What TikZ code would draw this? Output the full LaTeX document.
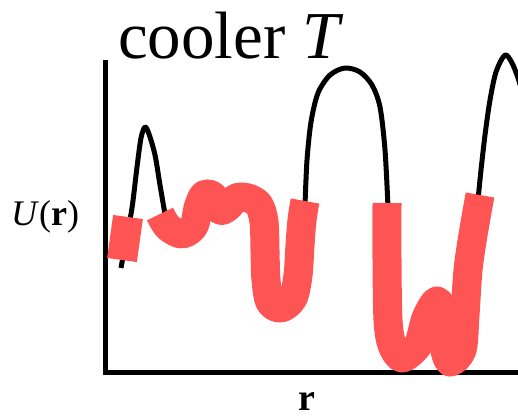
\documentclass[tikz,border=0pt]{standalone}
\usepackage{fontspec}
\setmainfont{Liberation Serif}
\definecolor{hotred}{RGB}{255,84,84}
\begin{document}
\begin{tikzpicture}[x=1pt,y=-1pt,
  curve/.style={draw=black, line width=5pt, line cap=butt, line join=round},
  wax/.style={draw=hotred, line cap=butt, line join=round},
  axisline/.style={draw=black, line width=5pt},
  lbl/.style={anchor=base west, inner sep=0pt}]
\useasboundingbox (0,0) rectangle (518,417);
\begin{scope}
\clip (0,0) rectangle (518,417);
% axes
\draw[axisline] (105,60) -- (105,372) -- (522,372);
% black potential segments
\draw[curve] plot[smooth] coordinates {(121,268) (126,240) (132,208) (137,167) (141,138) (145,127) (149,134) (155,155) (160,185) (166,220)};
\draw[curve] plot[smooth] coordinates {(305,205) (307,160) (311,122) (318,93) (330,75) (345,68) (360,72) (372,85) (380,107) (385,150) (388,207)};
\draw[curve] plot[smooth] coordinates {(478,200) (481,170) (485,135) (490,100) (496,72) (505,55) (512,63) (518,78) (523,95)};
% red strokes
\draw[wax, line width=30pt] (128,217) -- (122,260);
\draw[wax, line width=29pt] plot[smooth, tension=0.55] coordinates {(160,214) (168,227) (182,234) (194,226) (198,208) (204,195) (213,196) (220,210) (228,207) (236,198) (248,198) (259,205) (264,222) (265,250) (266,280) (270,302) (281,308) (293,298) (298,275) (300,245) (302,220) (305,201)};
\draw[wax, line width=29pt] plot[smooth] coordinates {(387,203) (387,260) (388,320) (392,345) (402,358) (418,345) (426,318) (437,301) (446,318) (444,345) (450,362) (462,350) (465,315) (468,270) (473,235) (480,195)};
\end{scope}
% labels
\node[lbl, font=\fontsize{67}{70}\selectfont] (title) at (118,59) {cooler \textit{T}};
\node[lbl, font=\fontsize{36}{40}\selectfont] (ulabel) at (11,225) {\textit{U}(\textbf{r})};
\node[lbl, font=\fontsize{38}{40}\selectfont] (rlabel) at (298,410) {\textbf{r}};
\end{tikzpicture}
\end{document}
